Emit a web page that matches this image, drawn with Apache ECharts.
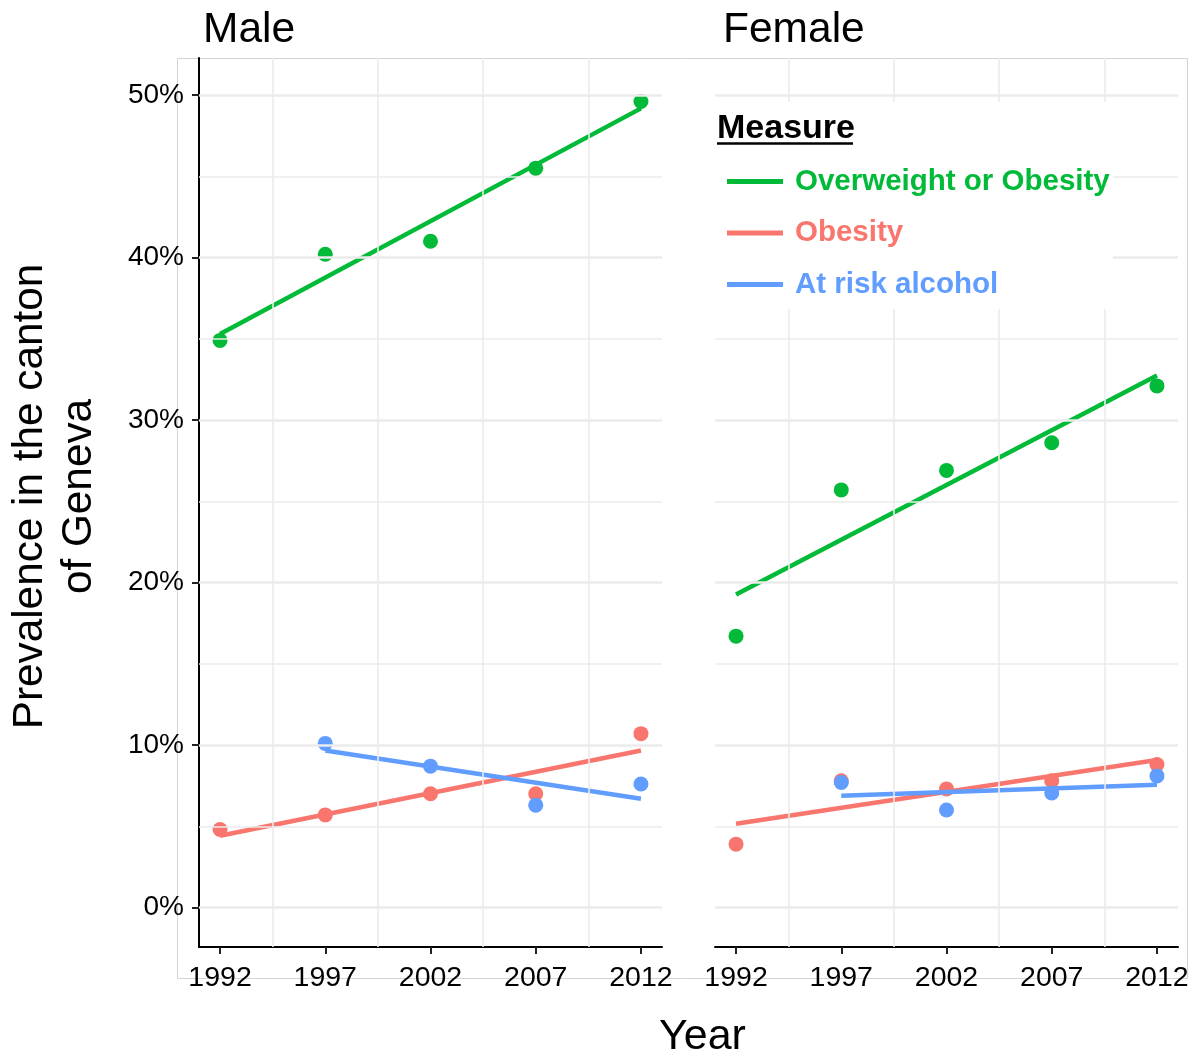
<!DOCTYPE html>
<html>
<head>
<meta charset="utf-8">
<script src="https://cdn.jsdelivr.net/npm/echarts@6/dist/echarts.min.js"></script>
<style>
  html, body { margin: 0; padding: 0; background: #fff; }
  #chart { width: 1197px; height: 1057px; }
</style>
</head>
<body>
<div id="chart"></div>
<script>
// ---- Data ----
const years = [1992, 1997, 2002, 2007, 2012];
const alcoholYears = [1997, 2002, 2007, 2012];
const panels = ['Male', 'Female'];
const measures = ['Overweight or Obesity', 'Obesity', 'At risk alcohol'];
const measureColors = ['#00BA38', '#F8766D', '#619CFF'];

const maleOverweight = [34.9, 40.2, 41.0, 45.5, 49.6];
const maleObesity = [4.8, 5.7, 7.0, 7.0, 10.7];
const maleAlcohol = [10.1, 8.7, 6.3, 7.6];

const femaleOverweight = [16.7, 25.7, 26.9, 28.6, 32.1];
const femaleObesity = [3.9, 7.8, 7.3, 7.8, 8.8];
const femaleAlcohol = [7.7, 6.0, 7.05, 8.1];

const xTickLabels = years;
const yTickValues = [0, 10, 20, 30, 40, 50];
const yGridValues = [0, 5, 10, 15, 20, 25, 30, 35, 40, 45, 50];
const xMinorGridValues = [1994.5, 1999.5, 2004.5, 2009.5];

// ---- Helpers ----
function pairs(xs, ys) { return xs.map((x, i) => [x, ys[i]]); }
function lmFit(xs, ys) {
  const n = xs.length;
  const mx = xs.reduce((a, b) => a + b, 0) / n;
  const my = ys.reduce((a, b) => a + b, 0) / n;
  let sxy = 0, sxx = 0;
  for (let i = 0; i < n; i++) { sxy += (xs[i] - mx) * (ys[i] - my); sxx += (xs[i] - mx) * (xs[i] - mx); }
  const b = sxy / sxx, a = my - b * mx;
  return [[xs[0], a + b * xs[0]], [xs[n - 1], a + b * xs[n - 1]]];
}

const panelData = [
  [[years, maleOverweight], [years, maleObesity], [alcoholYears, maleAlcohol]],
  [[years, femaleOverweight], [years, femaleObesity], [alcoholYears, femaleAlcohol]]
];

const FONT = "'Liberation Sans', Arial, sans-serif";
const gridColor = '#EBEBEB';

const series = [];
panelData.forEach((pd, p) => {
  // grid lines
  series.push({
    type: 'scatter', xAxisIndex: p, yAxisIndex: p, data: [], z: 1, silent: true,
    markLine: {
      silent: true, symbol: ['none', 'none'], label: { show: false }, animation: false,
      data: yGridValues.map(v => ({ yAxis: v, lineStyle: { color: gridColor, width: v % 10 === 0 ? 2.6 : 1.6, type: 'solid' } }))
        .concat(xMinorGridValues.map(v => ({ xAxis: v, lineStyle: { color: gridColor, width: 1.6, type: 'solid' } })))
    }
  });
  pd.forEach((d, m) => {
    series.push({
      name: measures[m], type: 'scatter', xAxisIndex: p, yAxisIndex: p,
      data: pairs(d[0], d[1]), symbolSize: 15, z: 3,
      itemStyle: { color: measureColors[m], opacity: 1 }
    });
    series.push({
      name: measures[m], type: 'line', xAxisIndex: p, yAxisIndex: p,
      data: lmFit(d[0], d[1]), showSymbol: false, symbol: 'none', z: 4,
      lineStyle: { color: measureColors[m], width: 4.5 }, itemStyle: { color: measureColors[m] }
    });
  });
});

const Y_MIN = -2.43, Y_MAX = 52.28;

// legend drawn with graphic elements
const legendX = 727, legendTextX = 795, legendY0 = 181.5, legendStep = 51.5;
const legendGraphics = [
  { type: 'rect', z: 50, silent: true, shape: { x: 705, y: 102, width: 408, height: 207 }, style: { fill: '#ffffff' } },
  { type: 'text', z: 51, x: 717, y: 128.5, style: { text: 'Measure', font: 'bold 34px ' + FONT, fill: '#000', textAlign: 'left', textVerticalAlign: 'middle' } },
  { type: 'line', z: 51, shape: { x1: 717, y1: 143.5, x2: 853, y2: 143.5 }, style: { stroke: '#000', lineWidth: 2.5 } }
];
measures.forEach((m, i) => {
  const y = legendY0 + i * legendStep;
  legendGraphics.push({ type: 'line', z: 51, shape: { x1: legendX, y1: y, x2: legendX + 56, y2: y }, style: { stroke: measureColors[i], lineWidth: 5 } });
  legendGraphics.push({ type: 'text', z: 51, x: legendTextX, y: y, style: { text: m, font: 'bold 29.5px ' + FONT, fill: measureColors[i], textAlign: 'left', textVerticalAlign: 'middle' } });
});

const option = {
  animation: false,
  backgroundColor: '#ffffff',
  textStyle: { fontFamily: FONT },
  grid: [
    { left: 199, top: 58, width: 463, height: 889 },
    { left: 715, top: 58, width: 463, height: 889 }
  ],
  xAxis: [0, 1].map(i => ({
    type: 'value', gridIndex: i, min: 1991, max: 2013,
    axisLine: { show: true, onZero: false, lineStyle: { color: '#000', width: 2 } },
    axisTick: { show: true, customValues: xTickLabels, length: 7, lineStyle: { color: '#222', width: 2 } },
    axisLabel: { customValues: xTickLabels, fontSize: 28.5, color: '#000', margin: 17, fontFamily: FONT, formatter: v => String(v) },
    splitLine: { show: false }
  })),
  yAxis: [0, 1].map(i => ({
    type: 'value', gridIndex: i, min: Y_MIN, max: Y_MAX,
    axisLine: { show: i === 0, onZero: false, lineStyle: { color: '#000', width: 2 } },
    axisTick: { show: i === 0, customValues: yTickValues, length: 7, lineStyle: { color: '#222', width: 2 } },
    axisLabel: { show: i === 0, customValues: yTickValues, fontSize: 28, color: '#000', margin: 15, fontFamily: FONT, formatter: v => v + '%' },
    splitLine: { show: false }
  })),
  graphic: [
    { type: 'rect', z: 0, silent: true, shape: { x: 177.5, y: 58.5, width: 1010, height: 920 }, style: { fill: 'none', stroke: '#d4d4d4', lineWidth: 1 } },
    { type: 'text', z: 100, x: 203, y: 30, style: { text: panels[0], font: '42.5px ' + FONT, fill: '#000', textAlign: 'left', textVerticalAlign: 'middle' } },
    { type: 'text', z: 100, x: 723, y: 30, style: { text: panels[1], font: '42.5px ' + FONT, fill: '#000', textAlign: 'left', textVerticalAlign: 'middle' } },
    { type: 'text', z: 100, x: 702.5, y: 1037, style: { text: 'Year', font: '43px ' + FONT, fill: '#000', textAlign: 'center', textVerticalAlign: 'middle' } },
    { type: 'text', z: 100, x: 54.5, y: 496.5, rotation: Math.PI / 2, style: { text: 'Prevalence in the canton\nof Geneva', font: '42.3px ' + FONT, lineHeight: 49, fill: '#000', textAlign: 'center', textVerticalAlign: 'middle' } }
  ].concat(legendGraphics),
  series: series
};

const chart = echarts.init(document.getElementById('chart'), null, { renderer: 'canvas' });
chart.setOption(option);
</script>
</body>
</html>
